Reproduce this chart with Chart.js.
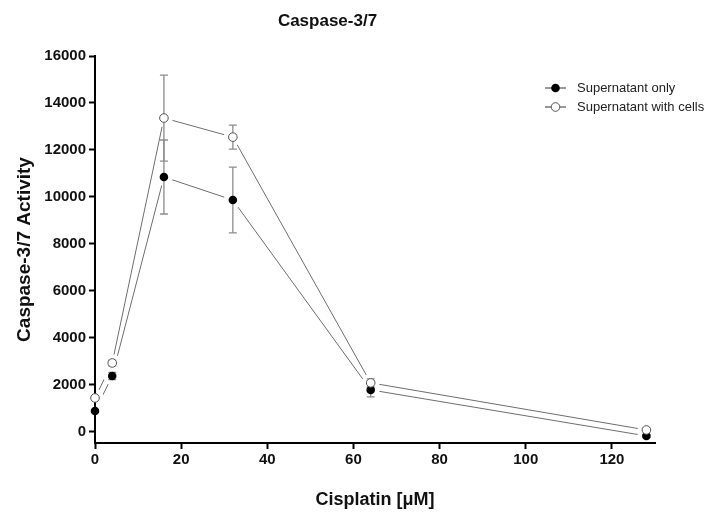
<!DOCTYPE html>
<html>
<head>
<meta charset="utf-8">
<script src="https://cdn.jsdelivr.net/npm/chart.js@4.4.1/dist/chart.umd.min.js"></script>
<style>
  html, body { margin: 0; background: #fff; }
  #wrap { width: 728px; height: 518px; }
</style>
</head>
<body>
<div id="wrap"><canvas id="grafico"></canvas></div>
<script>
// dados
const cisplatin = [0, 4, 16, 32, 64, 128];
const supOnly = [894, 2380, 10850, 9870, 1790, -170];
const supOnlySem = [60, 150, 1575, 1400, 300, 60];
const supCells = [1447, 2936, 13360, 12550, 2090, 85];
const supCellsSem = [60, 120, 1830, 510, 170, 40];
const seriesNames = ['Supernatant only', 'Supernatant with cells'];
const xTicks = [0, 20, 40, 60, 80, 100, 120];
const yTicks = [0, 2000, 4000, 6000, 8000, 10000, 12000, 14000, 16000];

const FONT = 'Arial, "Liberation Sans", sans-serif';

// marcadores, barras de erro e legenda (estilo GraphPad)
const marcadores = {
  id: 'marcadores',
  afterDatasetsDraw(chart) {
    const ctx = chart.ctx;
    const ys = chart.scales.y;
    const a = chart.chartArea;
    const sets = chart.data.datasets;

    // "buraco" branco na linha em volta de cada ponto
    ctx.save();
    ctx.beginPath();
    ctx.rect(a.left + 1.5, a.top - 20, a.right - a.left + 20, a.bottom - a.top + 18.5);
    ctx.clip();
    ctx.fillStyle = '#fff';
    sets.forEach((ds, i) => {
      chart.getDatasetMeta(i).data.forEach(p => {
        ctx.beginPath();
        ctx.arc(p.x, p.y, 9, 0, Math.PI * 2);
        ctx.fill();
      });
    });
    ctx.restore();

    // barras de erro
    ctx.save();
    ctx.strokeStyle = '#8c8c8c';
    ctx.lineWidth = 1.3;
    sets.forEach((ds, i) => {
      chart.getDatasetMeta(i).data.forEach((p, j) => {
        const v = ds.data[j].y;
        const e = ds.sem[j];
        const t = ys.getPixelForValue(v + e);
        const b = ys.getPixelForValue(v - e);
        ctx.beginPath();
        ctx.moveTo(p.x, t); ctx.lineTo(p.x, b);
        ctx.moveTo(p.x - 4, t); ctx.lineTo(p.x + 4, t);
        ctx.moveTo(p.x - 4, b); ctx.lineTo(p.x + 4, b);
        ctx.stroke();
      });
    });
    ctx.restore();

    // pontos
    ctx.save();
    sets.forEach((ds, i) => {
      chart.getDatasetMeta(i).data.forEach(p => {
        desenhaPonto(ctx, p.x, p.y, ds.aberto);
      });
    });
    ctx.restore();
  },
  afterDraw(chart) {
    const ctx = chart.ctx;
    ctx.save();
    chart.data.datasets.forEach((ds, i) => {
      const y = 88 + i * 19;
      ctx.strokeStyle = '#333';
      ctx.lineWidth = 1;
      ctx.beginPath();
      ctx.moveTo(545, y); ctx.lineTo(566, y);
      ctx.stroke();
      desenhaPonto(ctx, 555.5, y, ds.aberto);
      ctx.fillStyle = '#222';
      ctx.font = '13px ' + FONT;
      ctx.textBaseline = 'middle';
      ctx.textAlign = 'left';
      ctx.fillText(ds.label, 577, y);
    });
    ctx.restore();
  }
};

function desenhaPonto(ctx, x, y, aberto) {
  ctx.beginPath();
  ctx.arc(x, y, 4.3, 0, Math.PI * 2);
  if (aberto) {
    ctx.fillStyle = '#fff';
    ctx.fill();
    ctx.strokeStyle = '#555';
    ctx.lineWidth = 1;
    ctx.stroke();
  } else {
    ctx.fillStyle = '#000';
    ctx.fill();
  }
}

const ctx = document.getElementById('grafico').getContext('2d');
new Chart(ctx, {
  type: 'line',
  data: {
    datasets: [
      {
        label: seriesNames[0],
        data: cisplatin.map((x, i) => ({ x: x, y: supOnly[i] })),
        sem: supOnlySem,
        aberto: false,
        borderColor: '#6e6e6e',
        borderWidth: 1,
        pointRadius: 0,
        fill: false,
        tension: 0
      },
      {
        label: seriesNames[1],
        data: cisplatin.map((x, i) => ({ x: x, y: supCells[i] })),
        sem: supCellsSem,
        aberto: true,
        borderColor: '#6e6e6e',
        borderWidth: 1,
        pointRadius: 0,
        fill: false,
        tension: 0
      }
    ]
  },
  options: {
    responsive: true,
    maintainAspectRatio: false,
    animation: false,
    layout: { padding: { top: 0, right: 73, left: 0, bottom: 0 } },
    plugins: {
      legend: { display: false },
      tooltip: { enabled: false },
      title: {
        display: true,
        text: 'Caspase-3/7',
        color: '#111',
        font: { family: FONT, size: 17, weight: 'bold' },
        padding: { top: 11, bottom: 24.6 }
      }
    },
    scales: {
      x: {
        type: 'linear',
        min: 0,
        max: 130,
        afterBuildTicks: s => { s.ticks = xTicks.map(v => ({ value: v })); },
        afterFit: s => { s.height = 75; },
        grid: { display: true, drawOnChartArea: false, color: '#000', tickLength: 6, tickWidth: 2 },
        border: { color: '#000', width: 2 },
        ticks: { color: '#111', padding: 2, font: { family: FONT, size: 15, weight: 'bold' }, callback: v => String(v) },
        title: {
          display: true,
          text: 'Cisplatin [\u03bcM]',
          color: '#111',
          font: { family: FONT, size: 18, weight: 'bold' },
          padding: { top: 0, bottom: 7 }
        }
      },
      y: {
        min: -470,
        max: 16000,
        afterBuildTicks: s => { s.ticks = yTicks.map(v => ({ value: v })); },
        afterFit: s => { s.width = 95; },
        grid: { display: true, drawOnChartArea: false, color: '#000', tickLength: 6, tickWidth: 2 },
        border: { color: '#000', width: 2 },
        ticks: { color: '#111', padding: 3, font: { family: FONT, size: 15, weight: 'bold' }, callback: v => String(v) },
        title: {
          display: true,
          text: 'Caspase-3/7 Activity',
          color: '#111',
          font: { family: FONT, size: 19, weight: 'bold' },
          padding: { top: 13, bottom: 0 }
        }
      }
    }
  },
  plugins: [marcadores]
});
</script>
</body>
</html>
